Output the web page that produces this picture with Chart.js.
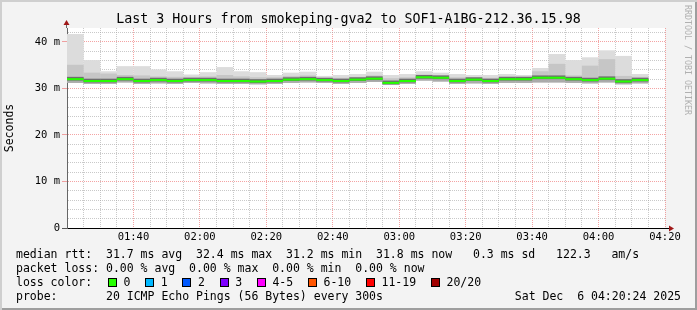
<!DOCTYPE html>
<html>
<head>
<meta charset="utf-8">
<script src="https://cdn.jsdelivr.net/npm/chart.js@4.4.1/dist/chart.umd.min.js"></script>
<style>
  html, body { margin: 0; padding: 0; background: #f3f3f3; }
  #frame {
    position: relative; width: 697px; height: 310px; overflow: hidden;
    background: #f3f3f3;
    box-shadow: inset 2px 2px 0 #cfcfcf, inset -2px -2px 0 #9e9e9e;
    font-family: 'DejaVu Sans Mono', monospace; color: #000;
  }
  #chart { position: absolute; left: 0; top: 0; }
  .title { position: absolute; left: 0; top: 11px; width: 697px; text-align: center;
    font-size: 13.3px; line-height: 16px; white-space: pre; }
  .line { position: absolute; left: 16px; font-size: 11.5px; line-height: 14px; white-space: pre; }
  .rrd { position: absolute; left: 683px; top: 5px; writing-mode: vertical-rl;
    font-size: 8.3px; color: #b0b0b0; white-space: pre; letter-spacing: 0; }
  .swatch { position: absolute; width: 9px; height: 9px; box-sizing: border-box; border: 1px solid #000; }
</style>
</head>
<body>
<div id="frame">
  <canvas id="chart" width="697" height="310"></canvas>
  <div class="title">Last 3 Hours from smokeping-gva2 to SOF1-A1BG-212.36.15.98</div>
  <div class="rrd">RRDTOOL / TOBI OETIKER</div>
  <div class="line" style="top:247px">median rtt:  31.7 ms avg  32.4 ms max  31.2 ms min  31.8 ms now   0.3 ms sd   122.3   am/s</div>
  <div class="line" style="top:261px">packet loss: 0.00 % avg  0.00 % max  0.00 % min  0.00 % now</div>
  <div class="line" style="top:275px">loss color:</div>
  <div class="line" style="top:289px">probe:       20 ICMP Echo Pings (56 Bytes) every 300s</div>
  <div class="line" style="top:289px; left:auto; right:16px">Sat Dec  6 04:20:24 2025</div>
</div>
<script>
// 5 minute steps (start of each step)
const stepStarts = ['01:20', '01:25', '01:30', '01:35', '01:40', '01:45', '01:50', '01:55',
    '02:00', '02:05', '02:10', '02:15', '02:20', '02:25', '02:30', '02:35', '02:40', '02:45',
    '02:50', '02:55', '03:00', '03:05', '03:10', '03:15', '03:20', '03:25', '03:30', '03:35',
    '03:40', '03:45', '03:50', '03:55', '04:00', '04:05', '04:10'];

// ping rtt in ms per step
const pingMax = [41.7, 36.1, 33.7, 34.8, 34.8, 34.1, 33.7, 33.0, 33.5, 34.6, 33.7, 33.5,
    32.9, 33.4, 33.6, 32.7, 32.9, 33.1, 33.6, 32.9, 33.1, 33.7, 33.4, 33.1, 32.9, 32.9,
    33.1, 32.9, 34.4, 37.4, 36.1, 36.7, 38.2, 37.0, 33.1];
const pingHigh = [35.1, 33.4, 33.2, 32.9, 32.8, 32.6, 32.5, 32.5, 32.6, 32.9, 32.6, 32.4,
    32.4, 32.7, 32.8, 32.3, 32.3, 32.5, 32.8, 32.2, 32.4, 33.0, 32.9, 32.4, 32.4, 32.3,
    32.6, 32.6, 33.7, 35.3, 32.8, 34.9, 36.3, 32.7, 32.5];
const pingMedian = [32.0, 31.6, 31.6, 32.0, 31.6, 31.8, 31.6, 31.8, 31.8, 31.6, 31.6, 31.5,
    31.6, 31.9, 32.0, 31.8, 31.6, 31.9, 32.1, 31.2, 31.6, 32.4, 32.3, 31.6, 31.9, 31.6,
    32.0, 32.0, 32.3, 32.3, 32.0, 31.8, 32.1, 31.5, 31.8];
const pingMin = [31.2, 31.0, 31.0, 31.3, 31.0, 31.1, 31.0, 31.2, 31.1, 31.0, 31.0, 30.9,
    31.0, 31.2, 31.3, 31.2, 31.0, 31.2, 31.4, 30.8, 31.0, 31.7, 31.5, 31.0, 31.1, 31.0,
    31.2, 31.2, 31.3, 31.3, 31.2, 31.1, 31.3, 30.9, 31.1];

// axes
const xTickLabels = ['01:40', '02:00', '02:20', '02:40', '03:00', '03:20', '03:40', '04:00', '04:20'];
const yTickValues = [0, 10, 20, 30, 40];
const yTickLabels = ['0', '10 m', '20 m', '30 m', '40 m'];

// loss legend
const lossLabels = ['0', '1', '2', '3', '4-5', '6-10', '11-19', '20/20'];
const lossColors = ['#26ff00', '#00b8ff', '#0059ff', '#7e00ff', '#ff00ff', '#ff5500', '#ff0000', '#a10000'];

const MONO = "'DejaVu Sans Mono', monospace";
const STEP = 5;
const X_MIN = 80, X_MAX = 260;  // 01:20 .. 04:20 in minutes
const MINOR_COLOR = 'rgba(165,165,165,0.6)';
const MAJOR_COLOR = 'rgba(235,90,90,0.55)';

function toMinutes(hhmm) {
    const [h, m] = hhmm.split(':').map(Number);
    return h * 60 + m;
}

const xTickValues = xTickLabels.map(toMinutes);
const centers = stepStarts.map(t => toMinutes(t) + STEP / 2);

function band(lo, hi) {
    return centers.map((x, i) => ({ x: x, y: [lo[i], hi[i]] }));
}
// thickness of the dark core and the median line, in ms
function around(arr, below, above) {
    return centers.map((x, i) => ({ x: x, y: [arr[i] - below, arr[i] + above] }));
}

const barStyle = { grouped: false, barPercentage: 1.01, categoryPercentage: 1, borderWidth: 0 };

// loss legend squares
(function buildLossLegend() {
    const frame = document.getElementById('frame');
    const charW = 6.93;
    let x = 108;
    lossLabels.forEach((label, i) => {
        const sw = document.createElement('div');
        sw.className = 'swatch';
        sw.style.left = x + 'px';
        sw.style.top = '278px';
        sw.style.background = lossColors[i];
        frame.appendChild(sw);
        const txt = document.createElement('div');
        txt.className = 'line';
        txt.style.left = (x + 15.5) + 'px';
        txt.style.top = '275px';
        txt.textContent = label;
        frame.appendChild(txt);
        x += 15.5 + label.length * charW + 14.8;
    });
})();

const plotBackground = {
    id: 'plotBackground',
    beforeDraw(chart) {
        const { ctx, chartArea: a } = chart;
        ctx.save();
        ctx.fillStyle = '#ffffff';
        ctx.fillRect(a.left, a.top, a.right - a.left, a.bottom - a.top);
        ctx.restore();
    }
};

const axisArrows = {
    id: 'axisArrows',
    afterDraw(chart) {
        const { ctx, chartArea: a } = chart;
        const ax = Math.round(a.left) - 0.5;
        const ay = Math.round(a.bottom) + 0.5;
        ctx.save();
        ctx.lineWidth = 1;
        ctx.strokeStyle = '#666666';
        ctx.beginPath();
        ctx.moveTo(ax, a.top);
        ctx.lineTo(ax, a.top - 4);
        ctx.stroke();
        ctx.strokeStyle = '#000000';
        ctx.beginPath();
        ctx.moveTo(a.right, ay);
        ctx.lineTo(a.right + 5, ay);
        ctx.stroke();
        ctx.fillStyle = '#a01818';
        ctx.beginPath();
        ctx.moveTo(ax - 3, a.top - 3);
        ctx.lineTo(ax + 3, a.top - 3);
        ctx.lineTo(ax, a.top - 8);
        ctx.closePath();
        ctx.fill();
        ctx.beginPath();
        ctx.moveTo(a.right + 4, ay - 3);
        ctx.lineTo(a.right + 4, ay + 3);
        ctx.lineTo(a.right + 9, ay);
        ctx.closePath();
        ctx.fill();
        ctx.restore();
    }
};

const xGrid = [];
for (let v = X_MIN; v <= X_MAX; v += STEP) xGrid.push(v);
const yGrid = [];
for (let v = 0; v <= 42; v += 2) yGrid.push(v);

new Chart(document.getElementById('chart'), {
    type: 'bar',
    data: {
        datasets: [
            { label: 'median', data: around(pingMedian, 0.22, 0.22), backgroundColor: '#26ff00', ...barStyle },
            { label: 'core', data: around(pingMedian, 0.3, 0.5), backgroundColor: '#6e6e6e', ...barStyle },
            { label: 'lower', data: band(pingMin, pingMedian), backgroundColor: '#ababab', ...barStyle },
            { label: 'inner', data: band(pingMin, pingHigh), backgroundColor: '#c6c6c6', ...barStyle },
            { label: 'outer', data: band(pingMin, pingMax), backgroundColor: '#dcdcdc', ...barStyle }
        ]
    },
    options: {
        responsive: false,
        animation: false,
        devicePixelRatio: 1,
        layout: { padding: { top: 28, right: 32, left: 0, bottom: 0 } },
        plugins: {
            legend: { display: false },
            tooltip: { enabled: false },
            title: { display: false }
        },
        scales: {
            x: {
                type: 'linear',
                min: X_MIN,
                max: X_MAX,
                offset: false,
                z: 1,
                afterBuildTicks: s => { s.ticks = xGrid.map(v => ({ value: v })); },
                afterFit: s => { s.height = 82; },
                ticks: {
                    autoSkip: false,
                    maxRotation: 0,
                    padding: 3,
                    color: '#000',
                    font: { family: MONO, size: 10.5 },
                    callback: v => {
                        const i = xTickValues.indexOf(v);
                        return i >= 0 ? xTickLabels[i] : '';
                    }
                },
                grid: {
                    offset: false,
                    drawTicks: false,
                    lineWidth: 1,
                    color: c => (c.tick && c.tick.value % 20 === 0) ? MAJOR_COLOR : MINOR_COLOR
                },
                border: { color: '#000', width: 1, dash: [1, 1] }
            },
            y: {
                min: 0,
                max: 43,
                z: 1,
                afterBuildTicks: s => { s.ticks = yGrid.map(v => ({ value: v })); },
                afterFit: s => { s.width = 67; },
                ticks: {
                    autoSkip: false,
                    padding: 2,
                    color: '#000',
                    font: { family: MONO, size: 10.5 },
                    callback: v => {
                        const i = yTickValues.indexOf(v);
                        return i >= 0 ? yTickLabels[i] : '';
                    }
                },
                grid: {
                    tickLength: 5,
                    lineWidth: 1,
                    color: c => (c.tick && c.tick.value % 10 === 0) ? MAJOR_COLOR : MINOR_COLOR,
                    tickColor: c => {
                        if (!c.tick) return 'transparent';
                        if (c.tick.value === 0) return '#555';
                        return c.tick.value % 10 === 0 ? MAJOR_COLOR : 'transparent';
                    }
                },
                border: { color: '#666', width: 1, dash: [1, 1] },
                title: {
                    display: true,
                    text: 'Seconds',
                    color: '#000',
                    font: { family: MONO, size: 11.5 },
                    padding: { top: 3, bottom: 0 }
                }
            }
        }
    },
    plugins: [plotBackground, axisArrows]
});
</script>
</body>
</html>
